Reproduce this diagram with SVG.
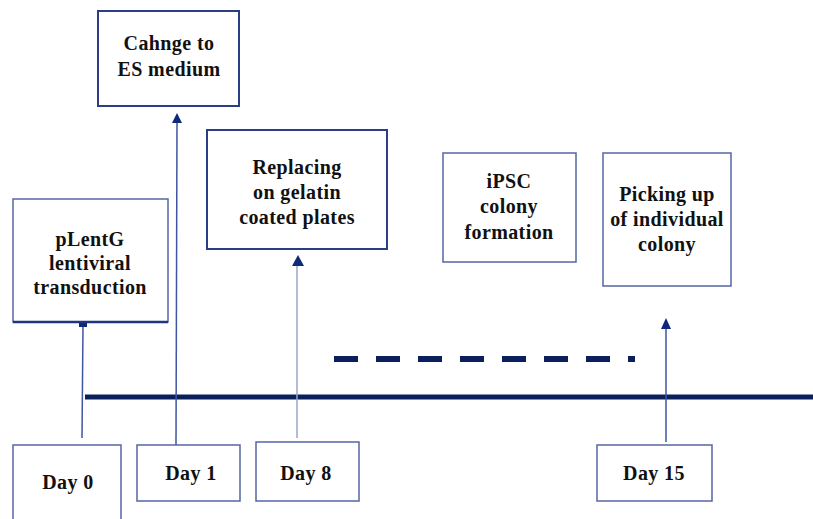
<svg xmlns="http://www.w3.org/2000/svg" width="813" height="519" viewBox="0 0 813 519">
<style>
.box{fill:#ffffff;stroke:#5565a3;stroke-width:1.5}
.boxb{fill:#ffffff;stroke:#2a3d85;stroke-width:2}
.lbl{font-family:"Liberation Serif","Times New Roman",serif;font-weight:bold;font-size:20px;letter-spacing:0.4px;fill:#111111;text-anchor:middle}
.conn{stroke:#3f55a0;stroke-width:1.5;fill:none}
.connl{stroke:#9aa4c8;stroke-width:1.5;fill:none}
.head{fill:#0d2a7a}
</style>
<rect width="813" height="519" fill="#ffffff"/>
<g id="connectors">
<line x1="85" y1="397" x2="813" y2="397" stroke="#0a1f5c" stroke-width="5"/>
<line x1="334" y1="359" x2="635" y2="359" stroke="#0a1f5c" stroke-width="6" stroke-dasharray="24 18"/>
<line class="conn" x1="83" y1="324" x2="82" y2="438"/>
<rect class="head" x="79" y="322" width="8" height="5"/>
<line class="conn" x1="177" y1="120" x2="176" y2="445"/>
<polygon class="head" points="177,113 172,123 182,123"/>
<line class="connl" x1="297" y1="263" x2="297" y2="438"/>
<polygon class="head" points="298,255 292,266 304,266"/>
<line class="conn" x1="666" y1="326" x2="666" y2="442"/>
<polygon class="head" points="666,318 661,329 671,329"/>
</g>
<g id="n-cahnge">
<rect class="boxb" x="98" y="11" width="141" height="95"/>
<text class="lbl" x="169" y="50">Cahnge to</text>
<text class="lbl" x="169" y="76">ES medium</text>
</g>
<g id="n-replacing">
<rect class="boxb" x="207" y="130" width="180" height="119"/>
<text class="lbl" x="297" y="174">Replacing</text>
<text class="lbl" x="297" y="199">on gelatin</text>
<text class="lbl" x="297" y="224">coated plates</text>
</g>
<g id="n-plentg">
<rect class="box" x="13" y="199" width="155" height="123"/>
<line x1="13" y1="322" x2="168" y2="322" stroke="#1e3580" stroke-width="2.5"/>
<text class="lbl" x="90" y="246">pLentG</text>
<text class="lbl" x="90" y="270">lentiviral</text>
<text class="lbl" x="90" y="294">transduction</text>
</g>
<g id="n-ipsc">
<rect class="box" x="443" y="153" width="133" height="109"/>
<text class="lbl" x="509" y="188">iPSC</text>
<text class="lbl" x="509" y="213">colony</text>
<text class="lbl" x="509" y="239">formation</text>
</g>
<g id="n-picking">
<rect class="box" x="603" y="153" width="128" height="133"/>
<text class="lbl" x="667" y="201">Picking up</text>
<text class="lbl" x="667" y="226">of individual</text>
<text class="lbl" x="667" y="251">colony</text>
</g>
<g id="n-day0">
<rect class="box" x="13" y="445" width="108" height="80" stroke="#a0a9cc"/>
<text class="lbl" x="68" y="489">Day 0</text>
</g>
<g id="n-day1">
<rect class="box" x="137" y="445" width="103" height="56"/>
<text class="lbl" x="191" y="480">Day 1</text>
</g>
<g id="n-day8">
<rect class="box" x="256" y="442" width="103" height="59"/>
<text class="lbl" x="306" y="480">Day 8</text>
</g>
<g id="n-day15">
<rect class="box" x="597" y="445" width="115" height="56"/>
<text class="lbl" x="654" y="480">Day 15</text>
</g>
</svg>
